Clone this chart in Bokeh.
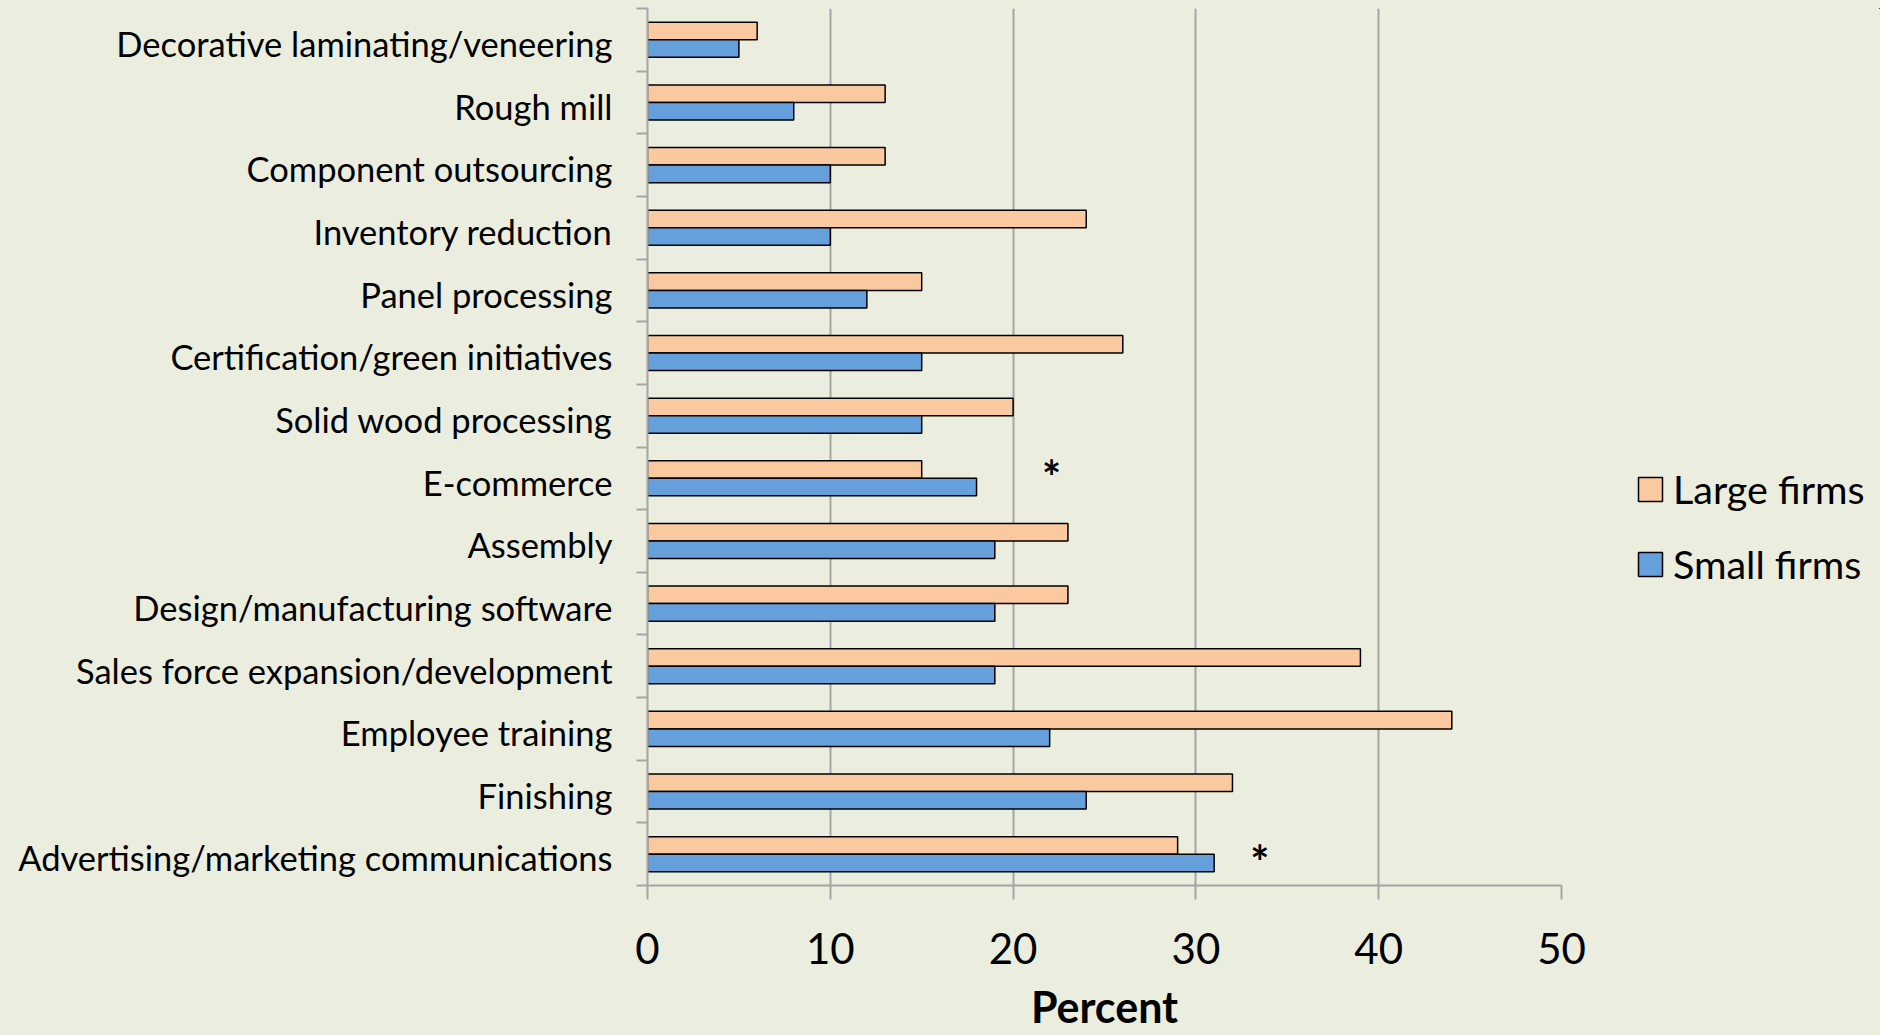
from bokeh.plotting import figure
from bokeh.layouts import row
from bokeh.models import ColumnDataSource, FixedTicker, Range1d, Legend, LegendItem, BoxAnnotation
from bokeh.transform import dodge
from bokeh.core.properties import value
from bokeh.embed import file_html
from bokeh.resources import INLINE

# ---- data (top to bottom as in the chart) ----
categories = [
    "Decorative laminating/veneering",
    "Rough mill",
    "Component outsourcing",
    "Inventory reduction",
    "Panel processing",
    "Certification/green initiatives",
    "Solid wood processing",
    "E-commerce",
    "Assembly",
    "Design/manufacturing software",
    "Sales force expansion/development",
    "Employee training",
    "Finishing",
    "Advertising/marketing communications",
]
large_firms = [6, 13, 13, 24, 15, 26, 20, 15, 23, 23, 39, 44, 32, 29]
small_firms = [5, 8, 10, 10, 12, 15, 15, 18, 19, 19, 19, 22, 24, 31]
x_ticks = [0, 10, 20, 30, 40, 50]
series_labels = ["Large firms", "Small firms"]
star_categories = ["E-commerce", "Advertising/marketing communications"]
star_x = [22.1, 33.5]

# ---- styling ----
BG = "#EBEEDE"
LARGE = "#FBC99F"
SMALL = "#65A0DC"
GRID = "#A5A5A5"
FONT = "Lato"

n = len(categories)
y_pos = [n - 0.5 - i for i in range(n)]
source = ColumnDataSource(dict(cat=categories, y=y_pos, large=large_firms, small=small_firms))

p = figure(width=1600, height=1035, output_backend="svg", toolbar_location=None,
           x_range=Range1d(x_ticks[0], x_ticks[-1]), y_range=Range1d(0, n),
           min_border_left=647, min_border_right=39, min_border_top=8, min_border_bottom=150)
p.background_fill_color = BG
p.border_fill_color = BG
p.outline_line_color = None

bar_style = dict(height=0.28, left=0, line_color="black", line_width=1.5)
r_large = p.hbar(y=dodge("y", 0.14), right="large", source=source, fill_color=LARGE, **bar_style)
r_small = p.hbar(y=dodge("y", -0.14), right="small", source=source, fill_color=SMALL, **bar_style)

# asterisks
star_y = [y_pos[categories.index(c)] for c in star_categories]
star_dy = [0.015, -0.13]
star_src = ColumnDataSource(dict(x=star_x, y=[a + b for a, b in zip(star_y, star_dy)]))
p.text(x="x", y="y", text=value("*"), source=star_src, text_font=value(FONT),
       text_font_style="bold", text_font_size="45px", text_align="center",
       text_baseline="middle", text_color="black")

# grid
p.ygrid.grid_line_color = None
p.xgrid.ticker = FixedTicker(ticks=x_ticks)
p.xgrid.grid_line_color = GRID
p.xgrid.grid_line_width = 2

# x axis
xa = p.xaxis[0]
xa.ticker = FixedTicker(ticks=x_ticks)
xa.axis_line_color = GRID
xa.axis_line_width = 2
xa.major_tick_line_color = GRID
xa.major_tick_line_width = 2
xa.major_tick_out = 14
xa.major_tick_in = 0
xa.minor_tick_line_color = None
xa.major_label_text_font = FONT
xa.major_label_text_font_size = "42px"
xa.major_label_text_color = "black"
xa.major_label_standoff = 33
xa.axis_label = "Percent"
xa.axis_label_text_font = FONT
xa.axis_label_text_font_style = "bold"
xa.axis_label_text_font_size = "43px"
xa.axis_label_text_color = "black"
xa.axis_label_standoff = 14

# y axis: labels at centres, ticks at category boundaries
label_pos = [y - 0.06 for y in y_pos]
ya = p.yaxis[0]
ya.ticker = FixedTicker(ticks=label_pos, minor_ticks=list(range(n + 1)))
ya.major_label_overrides = {y: c for y, c in zip(label_pos, categories)}
ya.axis_line_color = GRID
ya.axis_line_width = 2
ya.major_tick_line_color = None
ya.major_tick_out = 0
ya.major_tick_in = 0
ya.minor_tick_line_color = GRID
ya.minor_tick_line_width = 2
ya.minor_tick_out = 11
ya.minor_tick_in = 0
ya.major_label_text_font = FONT
ya.major_label_text_font_size = "34.5px"
ya.major_label_text_color = "black"
ya.major_label_standoff = 24

# ---- legend panel to the right (its proxy bars lie outside its empty view) ----
lg = figure(width=280, height=1035, output_backend="svg", toolbar_location=None,
            x_range=Range1d(-2, -1), y_range=Range1d(-n - 2, -n - 1),
            x_axis_location=None, y_axis_location=None,
            min_border_left=0, min_border_right=0, min_border_top=8, min_border_bottom=150)
lg.background_fill_color = BG
lg.border_fill_color = BG
lg.outline_line_color = None
lg.grid.grid_line_color = None
k_large = lg.hbar(y="y", right="large", source=source, fill_color=LARGE, **bar_style)
k_small = lg.hbar(y="y", right="small", source=source, fill_color=SMALL, **bar_style)
lg.add_layout(BoxAnnotation(fill_color=BG, fill_alpha=1, line_alpha=0, level="overlay"))

legend = Legend(items=[LegendItem(label=series_labels[0], renderers=[k_large]),
                       LegendItem(label=series_labels[1], renderers=[k_small])],
                location=(35, 298), orientation="vertical",
                glyph_width=30, glyph_height=30, label_height=30,
                label_text_font=FONT, label_text_font_size="39.5px", label_text_color="black",
                label_standoff=8, spacing=28, padding=0, margin=0,
                border_line_color=None, background_fill_alpha=0, level="overlay")
lg.add_layout(legend, "center")

layout = row(p, lg, spacing=0)
html = file_html(layout, INLINE)
html = html.replace("<head>", "<head><style>html,body{background:%s;margin:0;}</style>" % BG, 1)
open("out.html", "w").write(html)
